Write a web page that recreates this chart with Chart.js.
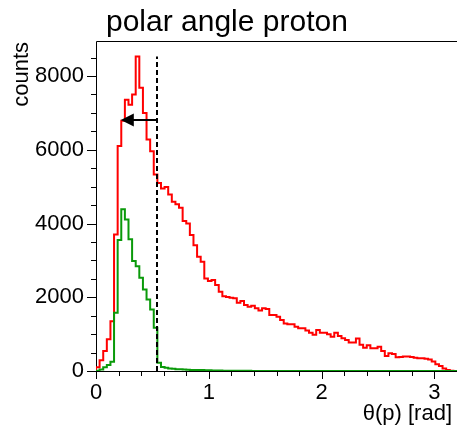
<!DOCTYPE html>
<html>
<head>
<meta charset="utf-8">
<script src="https://cdn.jsdelivr.net/npm/chart.js@4.4.1/dist/chart.umd.min.js"></script>
<style>
  html, body { margin: 0; padding: 0; background: #fff; }
</style>
</head>
<body>
<canvas id="c" width="457" height="426"></canvas>
<script>
// histogram range and binning (100 bins of 0.032 rad)
const xRange = [0, 3.2];
const yMax = 8950;
const xMajor = [0, 1, 2, 3];
const yMajor = [0, 2000, 4000, 6000, 8000];

// all protons
const redCounts = [
  100, 290, 540, 860, 1350, 3700, 6100, 6790, 7360, 7220,
  7500, 8530, 7680, 7000, 6280, 5960, 5330, 5100, 4950, 4990,
  4790, 4590, 4520, 4430, 4070, 4000, 3690, 3410, 3100, 2960,
  2510, 2440, 2470, 2330, 2150, 2030, 2010, 1990, 1970, 1850,
  1900, 1790, 1740, 1770, 1700, 1640, 1700, 1680, 1520, 1520,
  1470, 1380, 1290, 1270, 1270, 1200, 1160, 1160, 1100, 1040,
  980, 1110, 1040, 1040, 1000, 930, 1040, 950, 890, 840,
  770, 770, 880, 710, 630, 700, 620, 620, 660, 540,
  410, 480, 460, 370, 380, 390, 390, 380, 360, 345,
  345, 330, 310, 260, 180, 135, 70, 30, 10, 0
];

// protons passing the cut
const greenCounts = [
  10, 40, 100, 160, 250, 1580, 3550, 4390, 4110, 3570,
  2980, 2840, 2530, 2210, 1940, 1670, 1170, 225, 110, 90,
  70, 60, 50, 45, 40, 35, 30, 30, 25, 25,
  20, 20, 15, 15, 15, 10, 10, 10, 10, 8,
  8, 5, 5, 0, 0, 0, 0, 0, 0, 0,
  0, 0, 0, 0, 0, 0, 0, 0, 0, 0,
  0, 0, 0, 0, 0, 0, 0, 0, 0, 0,
  0, 0, 0, 0, 0, 0, 0, 0, 0, 0,
  0, 0, 0, 0, 0, 0, 0, 0, 0, 0,
  0, 0, 0, 0, 0, 0, 0, 0, 0, 0
];

const cutAngle = 0.54;
const arrowLevel = 6800;
const arrowTip = 0.22;

const FONT = "'Liberation Sans', Arial, sans-serif";

// outline like ROOT's HIST option
function histPoints(counts) {
  const w = (xRange[1] - xRange[0]) / counts.length;
  const pts = [{ x: xRange[0], y: 0 }];
  counts.forEach((c, i) => pts.push({ x: xRange[0] + i * w, y: c }));
  pts.push({ x: xRange[1], y: 0 });
  return pts;
}

const rootFrame = {
  id: 'rootFrame',
  beforeDatasetsDraw(chart) {
    const { ctx, chartArea: a, scales: { x, y } } = chart;
    ctx.save();
    ctx.strokeStyle = '#000';
    ctx.lineWidth = 1;
    ctx.beginPath();
    ctx.moveTo(a.left + 0.5, a.bottom + 0.5);
    ctx.lineTo(a.left + 0.5, a.top + 0.5);
    ctx.lineTo(a.right, a.top + 0.5);
    ctx.moveTo(a.left, a.bottom + 0.5);
    ctx.lineTo(a.right, a.bottom + 0.5);
    // x ticks, every 0.2, long at integers
    for (let k = 0; k * 0.2 <= xRange[1] + 1e-9; k++) {
      const v = k * 0.2;
      const px = Math.round(x.getPixelForValue(v)) + 0.5;
      const len = k % 5 === 0 ? 8 : 5;
      ctx.moveTo(px, a.bottom);
      ctx.lineTo(px, a.bottom + len);
    }
    // y ticks, every 500, long at 2000s
    for (let v = 0; v <= yMax; v += 500) {
      const py = Math.round(y.getPixelForValue(v)) + 0.5;
      const len = v % 2000 === 0 ? 9 : 5;
      ctx.moveTo(a.left, py);
      ctx.lineTo(a.left - len, py);
    }
    ctx.stroke();

    ctx.fillStyle = '#000';
    ctx.font = '30px ' + FONT;
    ctx.textAlign = 'left';
    ctx.textBaseline = 'alphabetic';
    ctx.fillText('polar angle proton', 106, 31);

    ctx.font = '22px ' + FONT;
    ctx.textAlign = 'right';
    ctx.fillText('θ(p) [rad]', 452, 420);

    ctx.translate(28, 42);
    ctx.rotate(-Math.PI / 2);
    ctx.fillText('counts', 0, 0);
    ctx.restore();
  },
  afterDatasetsDraw(chart) {
    const { ctx, scales: { x, y } } = chart;
    const cx = Math.round(x.getPixelForValue(cutAngle));
    ctx.save();
    ctx.strokeStyle = '#000';
    ctx.lineWidth = 2;
    ctx.setLineDash([5, 3]);
    ctx.beginPath();
    ctx.moveTo(cx, y.getPixelForValue(0));
    ctx.lineTo(cx, y.getPixelForValue(Math.max(...redCounts)));
    ctx.stroke();

    ctx.setLineDash([]);
    const ay = Math.round(y.getPixelForValue(arrowLevel));
    const tx = x.getPixelForValue(arrowTip);
    ctx.beginPath();
    ctx.moveTo(cx, ay);
    ctx.lineTo(tx + 10, ay);
    ctx.stroke();
    ctx.fillStyle = '#000';
    ctx.beginPath();
    ctx.moveTo(tx, ay);
    ctx.lineTo(tx + 13, ay - 6.5);
    ctx.lineTo(tx + 13, ay + 6.5);
    ctx.closePath();
    ctx.fill();
    ctx.restore();
  }
};

new Chart(document.getElementById('c').getContext('2d'), {
  type: 'line',
  data: {
    datasets: [
      {
        label: 'cut',
        data: histPoints(greenCounts),
        borderColor: '#0a9a0a',
        borderWidth: 2,
        stepped: 'before',
        pointRadius: 0,
        fill: false,
        order: 0
      },
      {
        label: 'all',
        data: histPoints(redCounts),
        borderColor: '#ff0000',
        borderWidth: 2,
        stepped: 'before',
        pointRadius: 0,
        fill: false,
        order: 1
      }
    ]
  },
  options: {
    responsive: false,
    animation: false,
    devicePixelRatio: 1,
    layout: { padding: { top: 41, left: 0, right: 0, bottom: 0 } },
    plugins: {
      legend: { display: false },
      tooltip: { enabled: false },
      title: { display: false }
    },
    scales: {
      x: {
        type: 'linear',
        min: xRange[0],
        max: xRange[1],
        grid: { display: false },
        border: { display: false },
        ticks: {
          font: { family: FONT, size: 22 },
          color: '#000',
          padding: 1,
          maxRotation: 0,
          autoSkip: false,
          callback: v => String(v)
        },
        afterBuildTicks: s => { s.ticks = xMajor.map(v => ({ value: v })); },
        afterFit: s => { s.height = 55; }
      },
      y: {
        min: 0,
        max: yMax,
        grid: { display: false },
        border: { display: false },
        ticks: {
          font: { family: FONT, size: 22 },
          color: '#000',
          padding: 4,
          callback: v => String(v)
        },
        afterBuildTicks: s => { s.ticks = yMajor.map(v => ({ value: v })); },
        afterFit: s => { s.width = 96; }
      }
    }
  },
  plugins: [rootFrame]
});
</script>
</body>
</html>
